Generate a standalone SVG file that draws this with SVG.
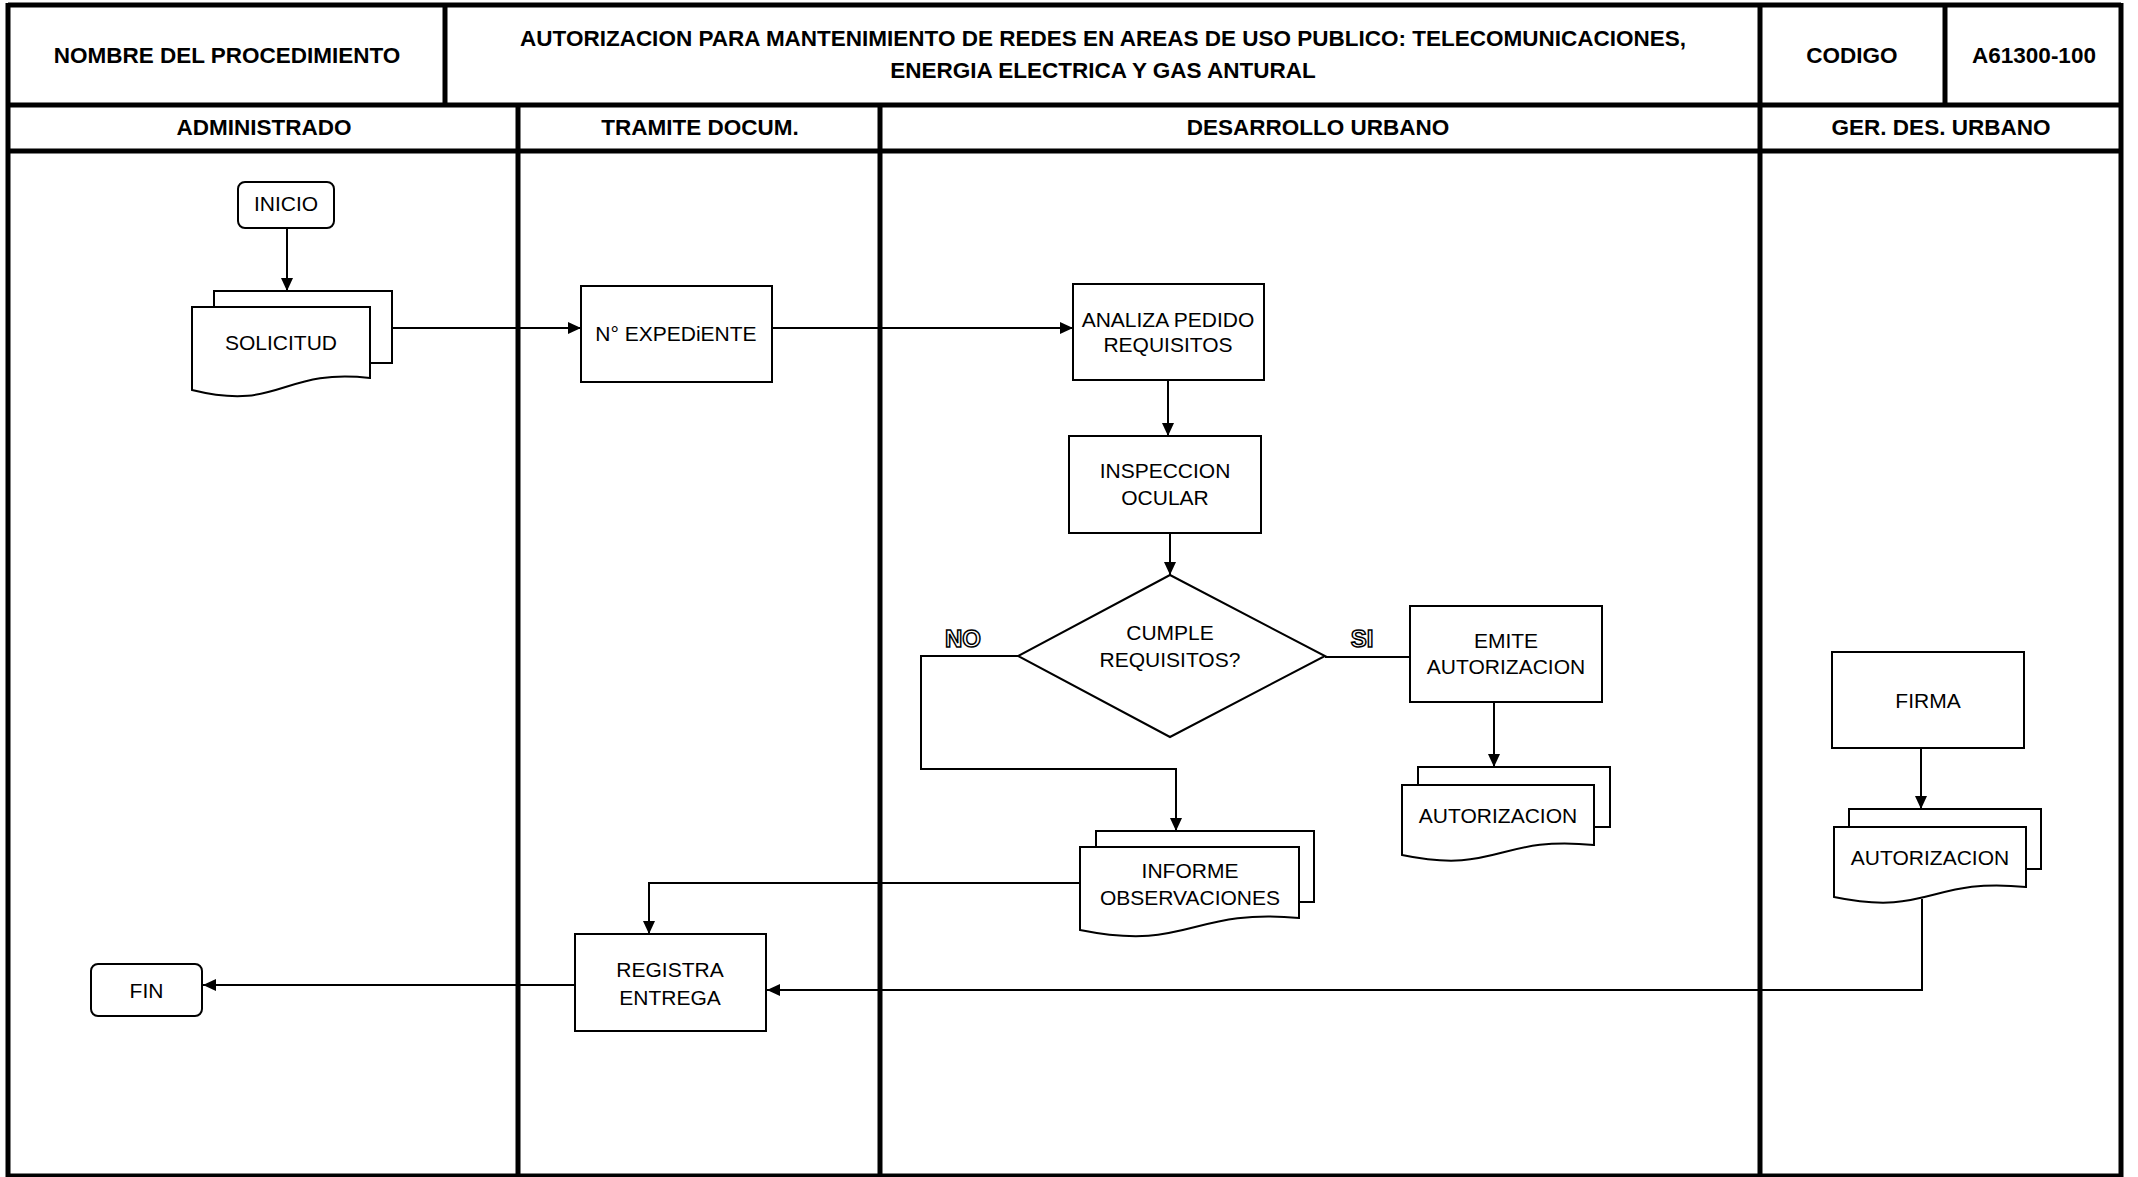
<svg xmlns="http://www.w3.org/2000/svg" width="2138" height="1177" viewBox="0 0 2138 1177">
<style>
.lane{stroke:#000;stroke-width:5;fill:none}
.hd{font-family:"Liberation Sans",Arial,sans-serif;font-weight:bold;font-size:22.5px;fill:#000;text-anchor:middle}
.box{fill:#fff;stroke:#000;stroke-width:2}
.t{font-family:"Liberation Sans",Arial,sans-serif;font-size:21px;fill:#000;text-anchor:middle}
.lbl{font-family:"Liberation Sans",Arial,sans-serif;font-weight:bold;font-size:24px;fill:#fff;stroke:#000;stroke-width:1.5;text-anchor:middle}
.cn{fill:none;stroke:#000;stroke-width:2}
</style>
<defs>
<marker id="ar" markerUnits="userSpaceOnUse" markerWidth="14" markerHeight="14" refX="13" refY="6" orient="auto">
<path d="M0,0 L13,6 L0,12 Z" fill="#000"/>
</marker>
</defs>
<rect x="0" y="0" width="2138" height="1177" fill="#fff"/>
<g id="frame">
<line class="lane" x1="8" y1="5" x2="2121" y2="5"/>
<line class="lane" x1="8" y1="105" x2="2121" y2="105"/>
<line class="lane" x1="8" y1="151" x2="2121" y2="151"/>
<line class="lane" x1="8" y1="1176" x2="2121" y2="1176"/>
<line class="lane" x1="8" y1="3" x2="8" y2="1177"/>
<line class="lane" x1="445" y1="5" x2="445" y2="105"/>
<line class="lane" x1="518" y1="105" x2="518" y2="1177"/>
<line class="lane" x1="880" y1="105" x2="880" y2="1177"/>
<line class="lane" x1="1760" y1="3" x2="1760" y2="1177"/>
<line class="lane" x1="1945" y1="5" x2="1945" y2="105"/>
<line class="lane" x1="2121" y1="3" x2="2121" y2="1177"/>
<text class="hd" x="227" y="63">NOMBRE DEL PROCEDIMIENTO</text>
<text class="hd" x="1103" y="46">AUTORIZACION PARA MANTENIMIENTO DE REDES EN AREAS DE USO PUBLICO: TELECOMUNICACIONES,</text>
<text class="hd" x="1103" y="78">ENERGIA ELECTRICA Y GAS ANTURAL</text>
<text class="hd" x="1852" y="63">CODIGO</text>
<text class="hd" x="2034" y="63">A61300-100</text>
<text class="hd" x="264" y="135">ADMINISTRADO</text>
<text class="hd" x="700" y="135">TRAMITE DOCUM.</text>
<text class="hd" x="1318" y="135">DESARROLLO URBANO</text>
<text class="hd" x="1941" y="135">GER. DES. URBANO</text>
</g>
<g id="connectors">
<path class="cn" d="M287,228 V291" marker-end="url(#ar)"/>
<path class="cn" d="M392,328 H581" marker-end="url(#ar)"/>
<path class="cn" d="M772,328 H1073" marker-end="url(#ar)"/>
<path class="cn" d="M1168,380 V436" marker-end="url(#ar)"/>
<path class="cn" d="M1170,533 V575" marker-end="url(#ar)"/>
<path class="cn" d="M1018,656 H921 V769 H1176 V831" marker-end="url(#ar)"/>
<path class="cn" d="M1325,657 H1410"/>
<path class="cn" d="M1494,702 V767" marker-end="url(#ar)"/>
<path class="cn" d="M1080,883 H649 V934" marker-end="url(#ar)"/>
<path class="cn" d="M575,985 H203" marker-end="url(#ar)"/>
<path class="cn" d="M1921,748 V809" marker-end="url(#ar)"/>
<path class="cn" d="M1922,899 V990 H767" marker-end="url(#ar)"/>
<text class="lbl" x="963" y="647">NO</text>
<text class="lbl" x="1362" y="647">SI</text>
</g>
<g id="inicio">
<rect class="box" x="238" y="182" width="96" height="46" rx="7"/>
<text class="t" x="286" y="211">INICIO</text>
</g>
<g id="solicitud">
<rect class="box" x="214" y="291" width="178" height="72"/>
<path class="box" d="M192,307 H370 V378 C281,368 281,412 192,390 Z"/>
<text class="t" x="281" y="350">SOLICITUD</text>
</g>
<g id="expediente">
<rect class="box" x="581" y="286" width="191" height="96"/>
<text class="t" x="676" y="341">N° EXPEDiENTE</text>
</g>
<g id="analiza">
<rect class="box" x="1073" y="284" width="191" height="96"/>
<text class="t" x="1168" y="326.5">ANALIZA PEDIDO</text>
<text class="t" x="1168" y="352">REQUISITOS</text>
</g>
<g id="inspeccion">
<rect class="box" x="1069" y="436" width="192" height="97"/>
<text class="t" x="1165" y="477.5">INSPECCION</text>
<text class="t" x="1165" y="504.5">OCULAR</text>
</g>
<g id="cumple">
<polygon class="box" points="1170,575 1325,656 1170,737 1018,656"/>
<text class="t" x="1170" y="639.5">CUMPLE</text>
<text class="t" x="1170" y="666.5">REQUISITOS?</text>
</g>
<g id="emite">
<rect class="box" x="1410" y="606" width="192" height="96"/>
<text class="t" x="1506" y="647.5">EMITE</text>
<text class="t" x="1506" y="673.5">AUTORIZACION</text>
</g>
<g id="autorizacion-du">
<rect class="box" x="1418" y="767" width="192" height="60"/>
<path class="box" d="M1402,785 H1594 V845 C1498,835 1498,875 1402,855 Z"/>
<text class="t" x="1498" y="822.5">AUTORIZACION</text>
</g>
<g id="informe">
<rect class="box" x="1096" y="831" width="218" height="71"/>
<path class="box" d="M1080,847 H1299 V918 C1189.5,908 1189.5,952 1080,930 Z"/>
<text class="t" x="1190" y="877.5">INFORME</text>
<text class="t" x="1190" y="904.5">OBSERVACIONES</text>
</g>
<g id="registra">
<rect class="box" x="575" y="934" width="191" height="97"/>
<text class="t" x="670" y="976.5">REGISTRA</text>
<text class="t" x="670" y="1004.5">ENTREGA</text>
</g>
<g id="fin">
<rect class="box" x="91" y="964" width="111" height="52" rx="7"/>
<text class="t" x="146.5" y="997.5">FIN</text>
</g>
<g id="firma">
<rect class="box" x="1832" y="652" width="192" height="96"/>
<text class="t" x="1928" y="707.5">FIRMA</text>
</g>
<g id="autorizacion-ger">
<rect class="box" x="1849" y="809" width="192" height="60"/>
<path class="box" d="M1834,827 H2026 V887 C1930,877 1930,917 1834,897 Z"/>
<text class="t" x="1930" y="864.5">AUTORIZACION</text>
</g>
</svg>
